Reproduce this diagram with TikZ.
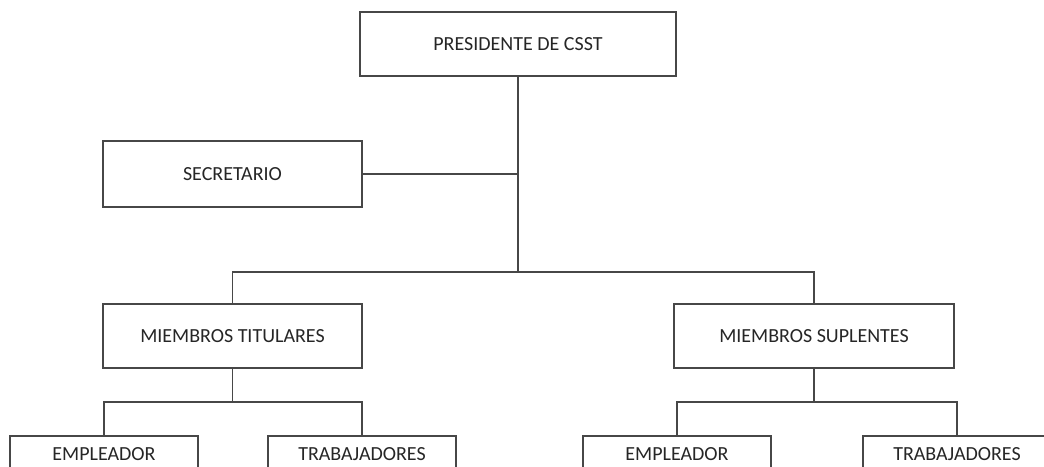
\documentclass[tikz,border=0pt]{standalone}
\usepackage{fontspec}
\setmainfont{Carlito}
\begin{document}
\begin{tikzpicture}[x=1pt,y=-1pt,
  box/.style={draw=black!72, line width=1.6pt, fill=white, text=black!85,
    font=\fontsize{20}{24}\selectfont, inner sep=0pt, minimum height=64pt},
  lowbox/.style={draw=black!72, line width=1.6pt, fill=white, text=black!85,
    font=\fontsize{20}{24}\selectfont, anchor=north, minimum width=188pt,
    inner xsep=0pt, inner ysep=5pt, text height=20pt, text depth=40pt},
  conn/.style={draw=black!72, line width=1.6pt}]
\clip (0,0) rectangle (1044,466);
\fill[white] (0,0) rectangle (1044,466);
% nodes
\node[box, minimum width=316pt] (pres) at (518,44) {PRESIDENTE DE CSST};
\node[box, minimum width=259pt, minimum height=66pt] (sec) at (232.5,174) {SECRETARIO};
\node[box, minimum width=259pt] (mt) at (232.5,336) {MIEMBROS TITULARES};
\node[box, minimum width=280pt] (ms) at (814,336) {MIEMBROS SUPLENTES};
\node[lowbox] (e1) at (104,435) {EMPLEADOR};
\node[lowbox] (t1) at (362,435) {TRABAJADORES};
\node[lowbox] (e2) at (677,435) {EMPLEADOR};
\node[lowbox] (t2) at (957,435) {TRABAJADORES};
% junctions
\coordinate (j0) at (518,272);
\coordinate (j1) at (232.5,402);
\coordinate (j2) at (814,402);
% connectors
\draw[conn] (pres.south) -- (j0);
\draw[conn] (sec.east) -- (sec.east -| pres.south);
\draw[conn] (mt.north) |- (j0) -| (ms.north);
\draw[conn] (mt.south) -- (j1);
\draw[conn] (e1.north) |- (j1) -| (t1.north);
\draw[conn] (ms.south) -- (j2);
\draw[conn] (e2.north) |- (j2) -| (t2.north);
\end{tikzpicture}
\end{document}
